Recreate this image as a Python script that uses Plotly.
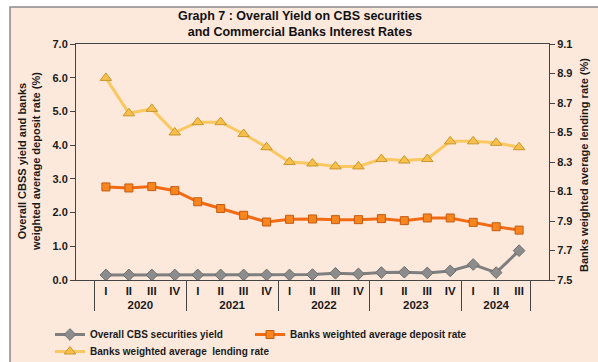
import plotly.graph_objects as go

years = ["2020"]*4 + ["2021"]*4 + ["2022"]*4 + ["2023"]*4 + ["2024"]*3
quarters = ["I", "II", "III", "IV"]*4 + ["I", "II", "III"]

cbs_yield = [0.15, 0.15, 0.15, 0.15, 0.15, 0.15, 0.15, 0.15, 0.15, 0.16,
             0.20, 0.18, 0.22, 0.23, 0.21, 0.27, 0.46, 0.22, 0.87]
deposit_rate = [2.76, 2.73, 2.77, 2.65, 2.32, 2.12, 1.92, 1.72, 1.80, 1.81,
                1.79, 1.79, 1.82, 1.76, 1.84, 1.84, 1.71, 1.58, 1.48]
lending_rate = [8.87, 8.63, 8.66, 8.50, 8.57, 8.57, 8.49, 8.40, 8.30, 8.29,
                8.27, 8.27, 8.32, 8.31, 8.32, 8.44, 8.44, 8.43, 8.40]

names = ["Overall CBS securities yield", "Banks weighted average deposit rate",
         "Banks weighted average  lending rate"]

W, H = 598, 362
ML, MR, MT, MB = 76, 49, 44, 82
PW, PH = W - ML - MR, H - MT - MB

def px(x):
    return (x - ML) / PW

def py(y):
    return (H - MB - y) / PH

FONT = "Liberation Sans, Arial, sans-serif"
x = [years, quarters]

fig = go.Figure()
fig.add_trace(go.Scatter(
    x=x, y=cbs_yield, name=names[0], mode="lines+markers", legend="legend",
    line=dict(color="#7F7F7F", width=3),
    marker=dict(symbol="diamond", size=9, color="#8C8C8C", line=dict(color="#6E6E6E", width=1)),
))
fig.add_trace(go.Scatter(
    x=x, y=deposit_rate, name=names[1], mode="lines+markers", legend="legend2",
    line=dict(color="#F26B12", width=3),
    marker=dict(symbol="square", size=8, color="#F7861E", line=dict(color="#C55A11", width=1)),
))
fig.add_trace(go.Scatter(
    x=x, y=lending_rate, name=names[2], mode="lines+markers", yaxis="y2", legend="legend3",
    line=dict(color="#FAC860", width=3),
    marker=dict(symbol="triangle-up", size=10, color="#F8C04A", line=dict(color="#C9962E", width=1)),
))

tickfont = dict(family=FONT, size=11, color="#1a1a1a", weight="bold")
legfont = dict(family=FONT, size=10, color="#1a1a1a", weight="bold")

def leg(xp, yp):
    return dict(orientation="h", x=px(xp), y=py(yp), xanchor="left", yanchor="top",
                bgcolor="rgba(0,0,0,0)", font=legfont, itemwidth=30)

fig.update_layout(
    width=W, height=H,
    margin=dict(l=ML, r=MR, t=MT, b=MB, autoexpand=False),
    paper_bgcolor="white", plot_bgcolor="white",
    font=dict(family=FONT, size=11, color="#1a1a1a"),
    hovermode=False,
    xaxis=dict(type="multicategory", showline=True, linecolor="#444", linewidth=1, mirror=True,
               showgrid=False, showdividers=True, dividercolor="#444", dividerwidth=1,
               automargin=False, tickfont=dict(family=FONT, size=11.5, color="#1a1a1a", weight="bold")),
    yaxis=dict(range=[0, 7], dtick=1, tickformat=".1f", showgrid=False, zeroline=False,
               showline=True, linecolor="#444", linewidth=1, ticks="outside", ticklen=5,
               tickcolor="#444", automargin=False, tickfont=tickfont),
    yaxis2=dict(range=[7.5, 9.1], dtick=0.2, tick0=7.5, tickformat=".1f", overlaying="y", side="right",
                showgrid=False, zeroline=False, showline=True, linecolor="#444", linewidth=1,
                ticks="outside", ticklen=5, tickcolor="#444", automargin=False, tickfont=tickfont),
    legend=leg(50, 320),
    legend2=leg(250, 320),
    legend3=leg(50, 337),
    showlegend=True,
    shapes=[dict(type="rect", xref="paper", yref="paper", layer="below",
                 x0=px(10), x1=px(W + 5), y0=py(H + 5), y1=py(7),
                 fillcolor="#FDE9DC", line=dict(color="#8A8A8A", width=1.5))],
    annotations=[
        dict(text="<b>Graph 7 : Overall Yield on CBS securities<br>and Commercial Banks Interest Rates</b>",
             xref="paper", yref="paper", x=px(300), y=py(24),
             xanchor="center", yanchor="middle", showarrow=False,
             font=dict(family=FONT, size=12.5, color="#111")),
        dict(text="<b>Overall CBSS yield and banks<br>weighted average deposit rate (%)</b>",
             textangle=-90, xref="paper", yref="paper", x=px(29), y=py(162),
             xanchor="center", yanchor="middle", showarrow=False,
             font=dict(family=FONT, size=11, color="#1a1a1a")),
        dict(text="<b>Banks weighted average lending rate (%)</b>",
             textangle=-90, xref="paper", yref="paper", x=px(584), y=py(165),
             xanchor="center", yanchor="middle", showarrow=False,
             font=dict(family=FONT, size=11, color="#1a1a1a")),
    ],
)

fig.write_html("out.html", config={"displayModeBar": False},
               post_script="document.body.style.margin='0';document.body.style.overflow='hidden';")
